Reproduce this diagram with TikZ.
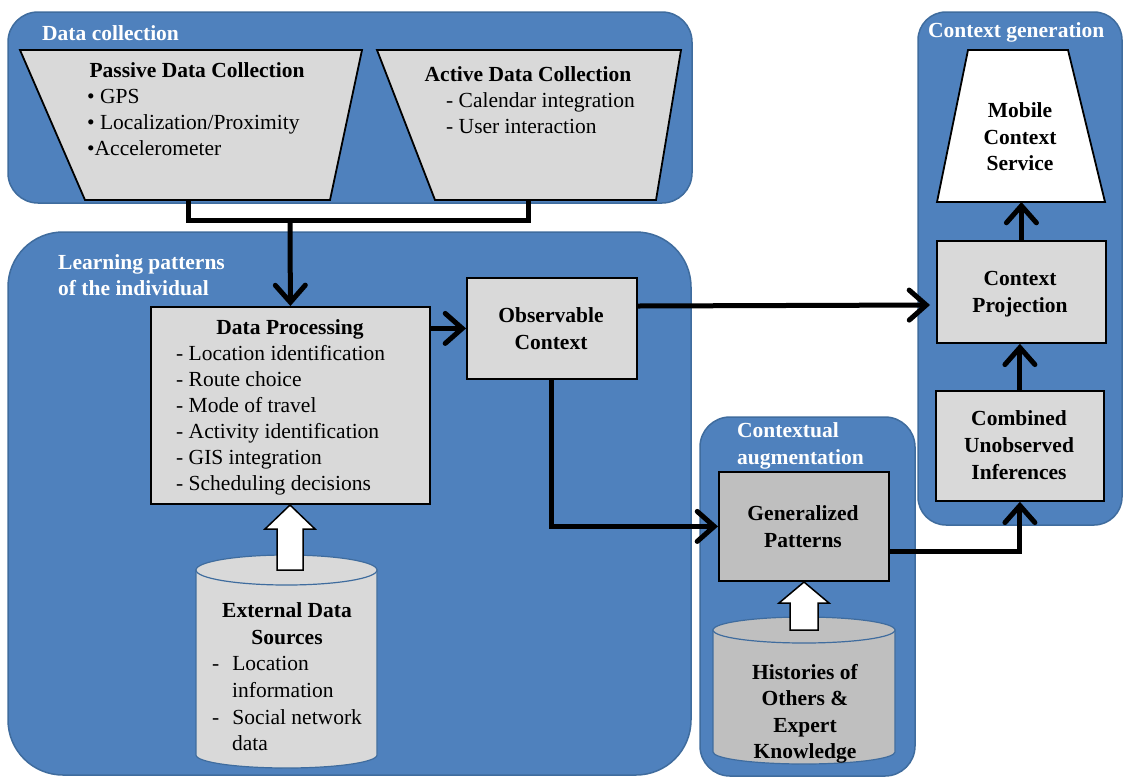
\documentclass[tikz,border=0pt]{standalone}
\usepackage{fontspec}
\setmainfont{Liberation Serif}
\usetikzlibrary{arrows.meta,calc}
\definecolor{panelblue}{HTML}{4F81BD}
\definecolor{paneledge}{HTML}{3F6C9E}
\definecolor{lightbox}{HTML}{D9D9D9}
\definecolor{darkbox}{HTML}{BFBFBF}
\newcommand\fs{\fontsize{21.5}{26}\selectfont}
\begin{document}
\begin{tikzpicture}[x=1pt,y=-1pt,
  panel/.style={fill=panelblue,draw=paneledge,line width=1.5pt},
  trap/.style={fill=lightbox,draw=black,line width=1.8pt,line join=miter},
  box/.style={draw=black,line width=1.8pt,fill=lightbox,inner sep=0pt,anchor=north west},
  cyl/.style={draw=paneledge,line width=1.2pt},
  flow/.style={line width=5pt,-{Straight Barb[length=17pt,width=30pt,line cap=round]}},
  link/.style={line width=5pt},
  txt/.style={font=\fs,inner sep=0pt,anchor=base},
  ltxt/.style={txt,anchor=base west},
  head/.style={txt,font=\fs\bfseries},
  plabel/.style={ltxt,font=\fs\bfseries,text=white},
  hollow/.style={draw=black,line width=1.5pt,fill=white,line join=miter}
]
\useasboundingbox (0,0) rectangle (1126,777);
\fill[white] (0,0) rectangle (1126,777);

% ---- group panels ----
\draw[panel,rounded corners=30pt] (8,12) rectangle (692,203);
\draw[panel,rounded corners=55pt] (8,232) rectangle (691,775);
\draw[panel,rounded corners=30pt] (700,417) rectangle (915,776);
\draw[panel,rounded corners=28pt] (918,12) rectangle (1122,525);

\node[plabel] (lcol) at (42,40) {Data collection};
\node[plabel] (llrn1) at (58,269) {Learning patterns};
\node[plabel] (llrn2) at (58,295) {of the individual};
\node[plabel] (laug1) at (737,437) {Contextual};
\node[plabel] (laug2) at (737,464) {augmentation};
\node[plabel] (lgen) at (928,37) {Context generation};

% ---- data collection funnels ----
\draw[trap] (20,50) -- (362,50) -- (330,200) -- (85,200) -- cycle;
\coordinate (passout) at (188,200);
\node[head] (pas0) at (197,77) {Passive Data Collection};
\node[ltxt] (pas1) at (87,103) {• GPS};
\node[ltxt] (pas2) at (87,129) {• Localization/Proximity};
\node[ltxt] (pas3) at (87,155) {•Accelerometer};

\draw[trap] (377,50) -- (681,50) -- (656,200) -- (435,200) -- cycle;
\coordinate (actout) at (528,200);
\node[head] (act0) at (528,81) {Active Data Collection};
\node[ltxt] (act1) at (446,107) {- Calendar integration};
\node[ltxt] (act2) at (446,133) {- User interaction};

% ---- mobile context service ----
\draw[trap,fill=white] (968,50) -- (1068,50) -- (1105,202) -- (937,202) -- cycle;
\node[head] (mob1) at (1020,117) {Mobile};
\node[head] (mob2) at (1020,144) {Context};
\node[head] (mob3) at (1020,170) {Service};

% ---- processing boxes ----
\node[box,minimum width=279pt,minimum height=197pt] (dp) at (150,306) {};
\node[head] (dp0) at (290,334) {Data Processing};
\foreach \t [count=\i] in {- Location identification,- Route choice,- Mode of travel,- Activity identification,- GIS integration,- Scheduling decisions}
  \node[ltxt] (dp\i) at (176,{334+26*\i}) {\t};

\node[box,minimum width=170pt,minimum height=101pt] (obs) at (466,277) {};
\node[head] (obs1) at (551,322) {Observable};
\node[head] (obs2) at (551,349) {Context};

\node[box,minimum width=169pt,minimum height=102pt] (proj) at (936,240) {};
\node[head] (proj1) at (1020,285) {Context};
\node[head] (proj2) at (1020,312) {Projection};
\coordinate (mobin) at (proj.north |- 0,202);

\node[box,minimum width=168pt,minimum height=110pt] (comb) at (935,390) {};
\node[head] (comb1) at (1019,425) {Combined};
\node[head] (comb2) at (1019,452) {Unobserved};
\node[head] (comb3) at (1019,479) {Inferences};

\node[box,fill=darkbox,minimum width=170pt,minimum height=109pt] (gen) at (718,471) {};
\node[head] (gen1) at (803,520) {Generalized};
\node[head] (gen2) at (803,547) {Patterns};

% ---- data stores ----
\draw[cyl,fill=lightbox] (196,570) -- (196,755) arc[start angle=180,end angle=0,x radius=90.5,y radius=13] -- (377,570) -- cycle;
\draw[cyl,fill=lightbox] (286.5,570) ellipse[x radius=90.5,y radius=15];
\node[head] (ext1) at (287,617) {External Data};
\node[head] (ext2) at (287,644) {Sources};
\node[ltxt] (ext3) at (212,670) {-\hspace{13pt}Location};
\node[ltxt] (ext4) at (232,697) {information};
\node[ltxt] (ext5) at (212,724) {-\hspace{13pt}Social network};
\node[ltxt] (ext6) at (232,750) {data};

\draw[cyl,fill=darkbox] (713,630) -- (713,752) arc[start angle=180,end angle=0,x radius=91,y radius=12] -- (895,630) -- cycle;
\draw[cyl,fill=darkbox] (804,630) ellipse[x radius=91,y radius=13];
\node[head] (his1) at (805,679) {Histories of};
\node[head] (his2) at (805,705) {Others \&};
\node[head] (his3) at (805,732) {Expert};
\node[head] (his4) at (805,758) {Knowledge};

% ---- hollow input arrows ----
\draw[hollow] (277,570) -- (277,529) -- (265,529) -- (290,505) -- (315,529) -- (303,529) -- (303,570) -- cycle;
\draw[hollow] (790,630) -- (790,603) -- (779,603) -- (804,582) -- (829,603) -- (818,603) -- (818,630) -- cycle;

% ---- connectors ----
\draw[link,line join=miter] (passout) |- (528,220) -- (actout);
\draw[flow] (290,220) -- (dp.north);
\draw[flow] (dp.east |- obs.west) -- (obs.west);
\draw[flow] ($(obs.north east)+(0,29)$) -- ($(proj.north west)+(-6,65)$);
\draw[flow] (obs.south) |- (gen.west);
\draw[flow] ($(gen.south east)+(0,-30)$) -| (comb.south);
\draw[flow] (comb.north) -- (comb.north |- proj.south);
\draw[flow] (proj.north) -- (mobin);
\end{tikzpicture}
\end{document}
